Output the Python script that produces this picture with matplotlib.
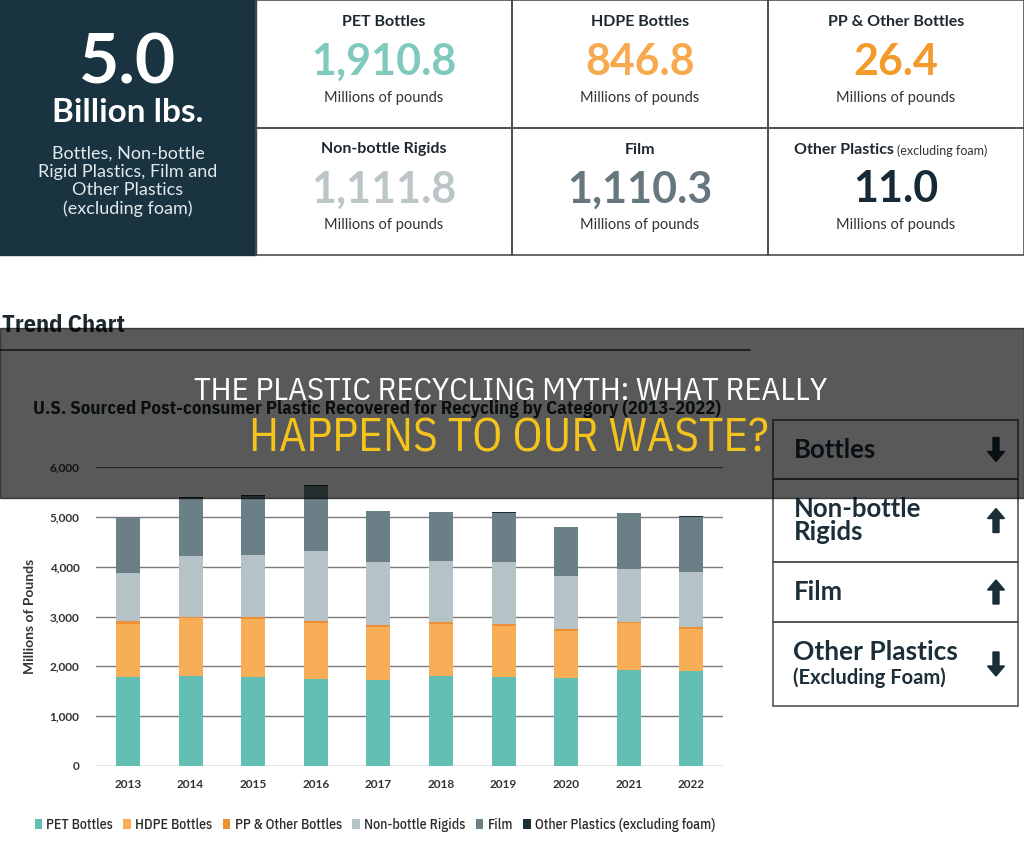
import matplotlib
matplotlib.use("Agg")
import matplotlib.pyplot as plt
import numpy as np

# Datos (millones de libras)
years = ["2013", "2014", "2015", "2016", "2017", "2018", "2019", "2020", "2021", "2022"]
pet = [1781, 1808, 1781, 1748, 1728, 1815, 1788, 1768, 1928, 1910.8]
hdpe = [1065, 1158, 1165, 1125, 1071, 1038, 1031, 951, 938, 846.8]
pp = [60, 27, 40, 40, 40, 33, 34, 26, 20, 26.4]
nonbottle = [958, 1219, 1253, 1406, 1259, 1219, 1232, 1058, 1065, 1111.8]
film = [1110, 1165, 1182, 1290, 1011, 991, 990, 985, 1118, 1110.3]
other = [10, 15, 20, 20, 8, 8, 13, 13, 13, 11.0]

series_names = ["PET Bottles", "HDPE Bottles", "PP & Other Bottles",
                "Non-bottle Rigids", "Film", "Other Plastics (excluding foam)"]
series_colors = ["#63bfb3", "#f8ae56", "#ee8f37", "#b6c3c6", "#6a7f86", "#1c2e38"]
number_colors = ["#7fc9bd", "#f6a94f", "#f39a2a", "#bcc6c9", "#66777e", "#152a36"]

trend_labels = ["Bottles", "Non-bottle\nRigids", "Film", "Other Plastics"]
trend_up = [False, True, True, False]

COND = ["IBM Plex Sans Condensed", "DejaVu Sans"]
MAIN = ["Lato", "DejaVu Sans"]

fig = plt.figure(figsize=(10.24, 8.51), dpi=100)
fig.patch.set_facecolor("white")

# ---- gráfico de barras apiladas ----
ax = fig.add_axes([96 / 1024, 85 / 851, 627 / 1024, 299 / 851])
x = np.arange(len(years))
stack = [pet, hdpe, pp, nonbottle, film, other]
bottom = np.zeros(len(years))
for vals, name, col in zip(stack, series_names, series_colors):
    ax.bar(x, vals, width=0.383, bottom=bottom, color=col, label=name, zorder=3)
    bottom += np.array(vals)

ax.set_ylim(0, 6000)
ax.set_xlim(-0.51, 9.505)
ax.set_yticks(np.arange(0, 6001, 1000))
ax.set_yticklabels([f"{v:,}" for v in range(0, 6001, 1000)])
ax.set_xticks(x)
ax.set_xticklabels(years)
ax.grid(axis="y", color="#7a7a7a", linewidth=1.0, zorder=0)
for s in ax.spines.values():
    s.set_visible(False)
ax.tick_params(length=0, colors="#333333", labelsize=8.5)
ax.tick_params(axis="y", pad=12)
ax.tick_params(axis="x", pad=9)
for lab in ax.get_xticklabels() + ax.get_yticklabels():
    lab.set_fontfamily(MAIN)
    lab.set_fontweight("bold")
ax.set_ylabel("Millions of Pounds", fontsize=10, fontweight="bold", color="#333333",
              family=MAIN, labelpad=10)

handles, labels = ax.get_legend_handles_labels()
fig.legend(handles, labels, loc="center left", bbox_to_anchor=(22 / 1024, 1 - 825 / 851),
           ncol=6, frameon=False, handlelength=0.55, handleheight=0.8, handletextpad=0.3,
           columnspacing=0.75, prop={"family": COND, "size": 10, "weight": 500},
           labelcolor="#2a2a2a")

# ---- capa superior en píxeles ----
top = fig.add_axes([0, 0, 1, 1], zorder=10)
top.set_xlim(0, 1024)
top.set_ylim(851, 0)
top.axis("off")
top.patch.set_alpha(0)

# panel oscuro con el total
top.add_patch(plt.Rectangle((0, 0), 256, 255, color="#193340", zorder=1))
total = sum(s[-1] for s in stack) / 1000
top.text(128, 64, f"{total:.1f}", color="white", fontsize=50, fontweight="bold",
         ha="center", va="center", family=MAIN, zorder=2)
top.text(128, 112, "Billion lbs.", color="white", fontsize=24, fontweight="bold",
         ha="center", va="center", family=MAIN, zorder=2)
top.text(128, 181, "Bottles, Non-bottle\nRigid Plastics, Film and\nOther Plastics\n(excluding foam)",
         color="#e2eaec", fontsize=13, ha="center", va="center", family=MAIN,
         linespacing=1.17, zorder=2)

# cuadrícula de valores 2022
cell_titles = ["PET Bottles", "HDPE Bottles", "PP & Other Bottles",
               "Non-bottle Rigids", "Film", "Other Plastics"]
for i, (title, vals, col) in enumerate(zip(cell_titles, stack, number_colors)):
    r, c = divmod(i, 3)
    x0, y0 = 256 + c * 256, r * 127.5
    top.add_patch(plt.Rectangle((x0, y0), 256, 127.5, fill=False, edgecolor="#4a4f52",
                                linewidth=1.2, zorder=2))
    cx = x0 + 128
    if title == "Other Plastics":
        top.text(cx - 2, y0 + 22, "Other Plastics", fontsize=11.5, fontweight="bold",
                 color="#1c2a30", ha="right", va="center", family=MAIN, zorder=3)
        top.text(cx + 1, y0 + 23, "(excluding foam)", fontsize=9, color="#333",
                 ha="left", va="center", family=MAIN, zorder=3)
    else:
        top.text(cx, y0 + 22, title, fontsize=11.5, fontweight="bold", color="#1c2a30",
                 ha="center", va="center", family=MAIN, zorder=3)
    top.text(cx, y0 + 62, f"{vals[-1]:,.1f}", fontsize=31, fontweight="bold", color=col,
             ha="center", va="center", family=MAIN, zorder=3)
    top.text(cx, y0 + 98, "Millions of pounds", fontsize=10.5, color="#333",
             ha="center", va="center", family=MAIN, zorder=3)

# título del gráfico (queda bajo la banda oscura)
top.text(2, 326, "Trend Chart", fontsize=17.5, fontweight="bold", color="#1c2a30",
         ha="left", va="center", family=COND, zorder=3)
top.plot([0, 750], [350, 350], color="#444", linewidth=1.2, zorder=3)
top.text(33, 409, "U.S. Sourced Post-consumer Plastic Recovered for Recycling by Category (2013-2022)",
         fontsize=13.5, fontweight="bold", color="#1c2a30", ha="left", va="center",
         family=COND, zorder=3)

# panel de tendencias
rows = [(420, 479), (479, 562), (562, 622), (622, 706)]
for (ya, yb), lab, up in zip(rows, trend_labels, trend_up):
    top.add_patch(plt.Rectangle((773, ya), 245, yb - ya, fill=False, edgecolor="#555",
                                linewidth=1.2, zorder=3))
    ym = (ya + yb) / 2
    if lab == "Other Plastics":
        top.text(793, ym - 12, lab, fontsize=19, fontweight="bold", color="#1c2e38",
                 ha="left", va="center", family=MAIN, zorder=4)
        top.text(793, ym + 14, "(Excluding Foam)", fontsize=14.5, fontweight="bold",
                 color="#1c2e38", ha="left", va="center", family=MAIN, zorder=4)
    else:
        top.text(794, ym, lab, fontsize=18.5, fontweight="bold", color="#1c2e38",
                 ha="left", va="center", family=MAIN, linespacing=0.95, zorder=4)
    if up:
        top.arrow(996, ym + 12, 0, -14, width=6, head_width=17, head_length=10,
                  color="#1c2e38", zorder=4)
    else:
        top.arrow(996, ym - 12, 0, 14, width=6, head_width=17, head_length=10,
                  color="#1c2e38", zorder=4)

# banda oscura con el titular
top.add_patch(plt.Rectangle((0, 328), 1024, 169.5, color="black", alpha=0.65, zorder=8))
top.text(511, 391, "THE PLASTIC RECYCLING MYTH: WHAT REALLY", fontsize=23.4, color="white",
         ha="center", va="center", family=COND, zorder=9)
top.text(509, 439, "HAPPENS TO OUR WASTE?", fontsize=34, color="#f5c41a",
         ha="center", va="center", family=COND, zorder=9)

fig.savefig("out.png", dpi=100)
